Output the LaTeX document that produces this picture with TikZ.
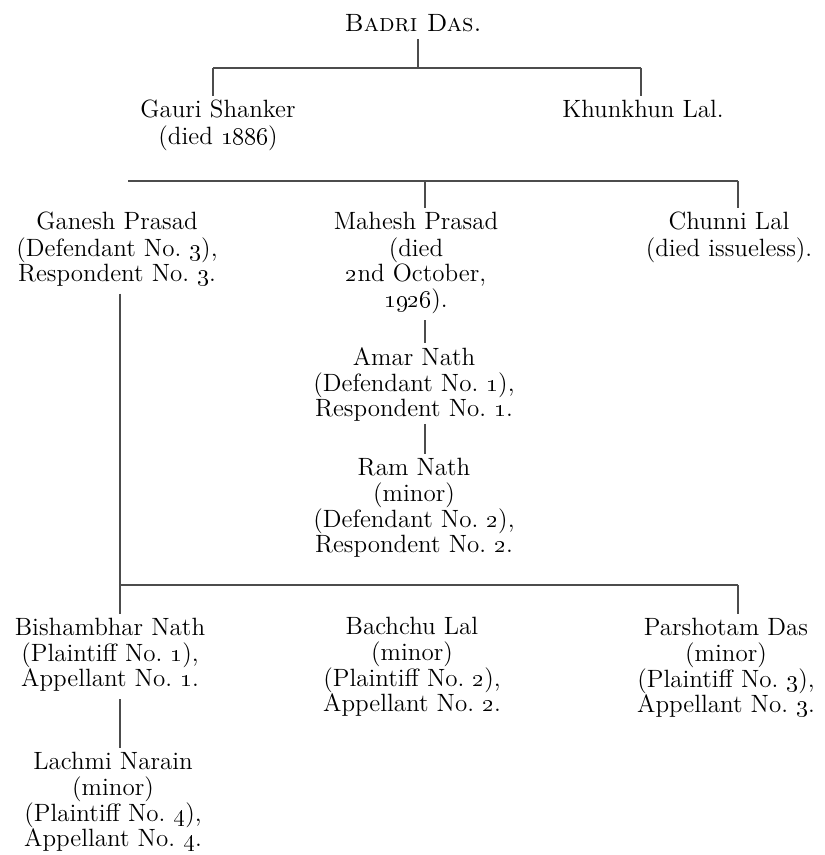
\documentclass[tikz,border=0pt]{standalone}
\newcommand\famtab[1]{\begin{tabular}[t]{@{}c@{}}#1\end{tabular}}
\newcommand\osn[1]{\oldstylenums{#1}}
\begin{document}
\begin{tikzpicture}[x=0.5pt,y=-0.5pt,
  person/.style={anchor=base,inner sep=0pt,outer sep=0pt,text=black,
    font=\fontsize{12.5}{12.5}\selectfont},
  tie/.style={draw=black!70,line width=0.6pt},
  intext/.style={shorten >=2pt},
  fromtext/.style={shorten <=2.5pt}]
\path[use as bounding box] (0,0) rectangle (824,855);
% people
\node[person] (badri)  at (413,32)  {\famtab{\textsc{Badri Das.}}};
\node[person] (gauri)  at (218,118) {\famtab{Gauri Shanker\\(died \osn{1886})}};
\node[person] (khun)   at (643,118) {\famtab{Khunkhun Lal.}};
\node[person] (ganesh) at (117,230) {\famtab{Ganesh Prasad\\(Defendant No.~\osn{3}),\\Respondent No.~\osn{3}.}};
\node[person] (mahesh) at (416,230) {\famtab{Mahesh Prasad\\(died\\\osn{2}nd October,\\\osn{1926}).}};
\node[person] (chunni) at (729,230) {\famtab{Chunni Lal\\(died issueless).}};
\node[person] (amar)   at (414,365) {\famtab{Amar Nath\\(Defendant No.~\osn{1}),\\Respondent No.~\osn{1}.}};
\node[person] (ram)    at (414,475) {\famtab{Ram Nath\\(minor)\\(Defendant No.~\osn{2}),\\Respondent No.~\osn{2}.}};
\node[person] (bish)   at (110,635) {\famtab{Bishambhar Nath\\(Plaintiff No.~\osn{1}),\\Appellant No.~\osn{1}.}};
\node[person] (bach)   at (412,634) {\famtab{Bachchu Lal\\(minor)\\(Plaintiff No.~\osn{2}),\\Appellant No.~\osn{2}.}};
\node[person] (parsh)  at (726,635) {\famtab{Parshotam Das\\(minor)\\(Plaintiff No.~\osn{3}),\\Appellant No.~\osn{3}.}};
\node[person] (lach)   at (113,769) {\famtab{Lachmi Narain\\(minor)\\(Plaintiff No.~\osn{4}),\\Appellant No.~\osn{4}.}};
% joints
\coordinate (bx)  at (418,0);
\coordinate (b1L) at (213,68);
\coordinate (b1R) at (641,68);
\coordinate (b2L) at (128,181);
\coordinate (b2M) at (425,181);
\coordinate (b2R) at (738,181);
\coordinate (mx)  at (425,0);
\coordinate (b3L) at (120,585);
\coordinate (b3R) at (738,585);
% connectors
\draw[tie] (bx |- badri.south) -- (bx |- b1L);
\draw[tie] (b1L) -- (b1R);
\draw[tie,intext] (b1L) -- (b1L |- gauri.north);
\draw[tie,intext] (b1R) -- (b1R |- khun.north);
\draw[tie] (b2L) -- (b2R);
\draw[tie,intext] (b2M) -- (b2M |- mahesh.north);
\draw[tie,intext] (b2R) -- (b2R |- chunni.north);
\draw[tie,fromtext,intext] (mx |- mahesh.south) -- (mx |- amar.north);
\draw[tie,intext] (mx |- amar.south) -- (mx |- ram.north);
\draw[tie,fromtext] (b3L |- ganesh.south) -- (b3L);
\draw[tie] (b3L) -- (b3R);
\draw[tie,intext] (b3L) -- (b3L |- bish.north);
\draw[tie,intext] (b3R) -- (b3R |- parsh.north);
\draw[tie,fromtext,intext] (b3L |- bish.south) -- (b3L |- lach.north);
\end{tikzpicture}
\end{document}
